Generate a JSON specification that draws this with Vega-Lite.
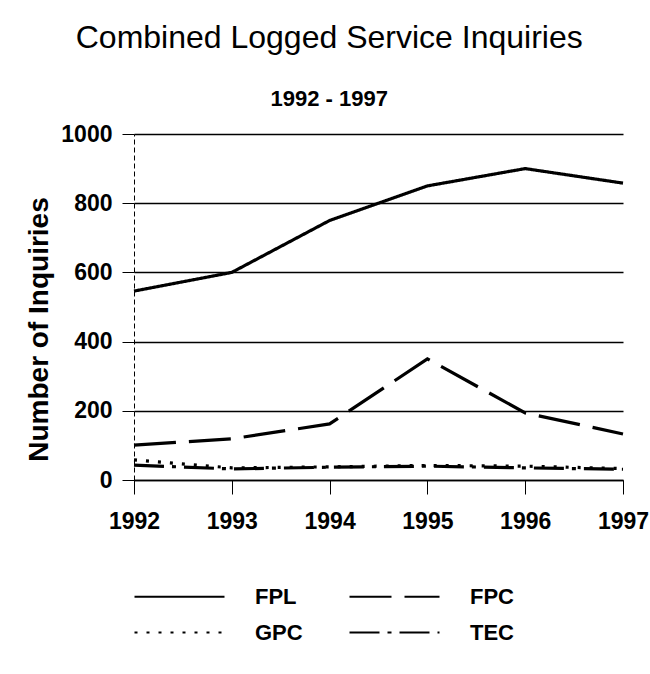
{
  "$schema": "https://vega.github.io/schema/vega-lite/v6.json",
  "width": 489,
  "height": 346,
  "padding": {"left": 25, "top": 22, "right": 2, "bottom": 2},
  "background": "white",
  "title": {
    "text": "Combined Logged Service Inquiries",
    "subtitle": "1992 - 1997",
    "font": "Liberation Sans",
    "fontSize": 32,
    "fontWeight": "normal",
    "color": "black",
    "subtitleFont": "Liberation Sans",
    "subtitleFontSize": 22,
    "subtitleFontWeight": "bold",
    "subtitleColor": "black",
    "subtitlePadding": 34,
    "anchor": "middle",
    "frame": "bounds",
    "dx": -8,
    "offset": 12
  },
  "data": {
    "values": [
      {"year": "1992", "series": "FPL", "value": 546},
      {"year": "1993", "series": "FPL", "value": 600},
      {"year": "1994", "series": "FPL", "value": 750},
      {"year": "1995", "series": "FPL", "value": 850},
      {"year": "1996", "series": "FPL", "value": 900},
      {"year": "1997", "series": "FPL", "value": 858},
      {"year": "1992", "series": "FPC", "value": 101},
      {"year": "1993", "series": "FPC", "value": 119},
      {"year": "1994", "series": "FPC", "value": 162},
      {"year": "1995", "series": "FPC", "value": 350},
      {"year": "1996", "series": "FPC", "value": 194},
      {"year": "1997", "series": "FPC", "value": 133},
      {"year": "1992", "series": "GPC", "value": 58},
      {"year": "1993", "series": "GPC", "value": 35},
      {"year": "1994", "series": "GPC", "value": 38},
      {"year": "1995", "series": "GPC", "value": 42},
      {"year": "1996", "series": "GPC", "value": 40},
      {"year": "1997", "series": "GPC", "value": 33},
      {"year": "1992", "series": "TEC", "value": 43},
      {"year": "1993", "series": "TEC", "value": 32},
      {"year": "1994", "series": "TEC", "value": 37},
      {"year": "1995", "series": "TEC", "value": 40},
      {"year": "1996", "series": "TEC", "value": 35},
      {"year": "1997", "series": "TEC", "value": 31}
    ]
  },
  "mark": {"type": "line", "strokeWidth": 3.2, "color": "black"},
  "encoding": {
    "x": {
      "field": "year",
      "type": "ordinal",
      "scale": {"type": "point", "padding": 0},
      "axis": {
        "title": null,
        "labelAngle": 0,
        "labelFont": "Liberation Sans",
        "labelFontSize": 23,
        "labelFontWeight": "bold",
        "labelColor": "black",
        "labelPadding": 16,
        "labelBound": false,
        "tickSize": 14,
        "tickColor": "black",
        "tickWidth": 1,
        "domainColor": "black",
        "domainWidth": 1.5,
        "grid": false
      }
    },
    "y": {
      "field": "value",
      "type": "quantitative",
      "scale": {"domain": [0, 1000], "nice": false},
      "axis": {
        "title": "Number of Inquiries",
        "titleFont": "Liberation Sans",
        "titleFontSize": 28,
        "titleFontWeight": "bold",
        "titleColor": "black",
        "titlePadding": 7,
        "titleY": 195,
        "values": [0, 200, 400, 600, 800, 1000],
        "format": "d",
        "labelFont": "Liberation Sans",
        "labelFontSize": 23,
        "labelFontWeight": "bold",
        "labelColor": "black",
        "labelPadding": 10,
        "tickSize": 12,
        "tickColor": "black",
        "tickWidth": 1,
        "domainColor": "black",
        "domainDash": [5, 3],
        "domainWidth": 1,
        "grid": true,
        "gridColor": "black",
        "gridWidth": 1.3,
        "gridOpacity": 1
      }
    },
    "strokeDash": {
      "field": "series",
      "type": "nominal",
      "scale": {
        "domain": ["FPL", "FPC", "GPC", "TEC"],
        "range": [[1, 0], [42, 13], [3, 9], [30, 8, 4, 8]]
      },
      "legend": {
        "title": null,
        "orient": "bottom",
        "direction": "horizontal",
        "columns": 2,
        "offset": 18,
        "padding": 29,
        "symbolType": "M-3,0H3",
        "symbolSize": 900,
        "symbolStrokeWidth": 2.2,
        "symbolStrokeColor": "black",
        "symbolFillColor": "transparent",
        "labelFont": "Liberation Sans",
        "labelFontSize": 22,
        "labelFontWeight": "bold",
        "labelColor": "black",
        "labelOffset": 59,
        "columnPadding": 42,
        "rowPadding": 8
      }
    }
  },
  "config": {"view": {"stroke": null}}
}
